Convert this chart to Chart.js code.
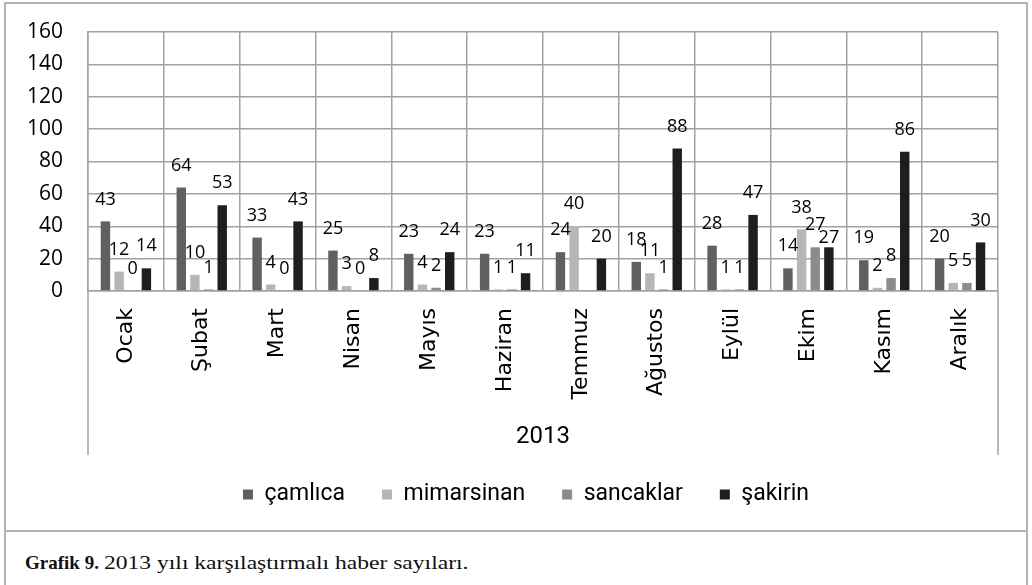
<!DOCTYPE html>
<html><head><meta charset="utf-8">
<script src="https://cdn.jsdelivr.net/npm/chart.js@4.4.1/dist/chart.umd.min.js"></script>
<style>
html,body{margin:0;padding:0;background:#fff;}
body{width:1032px;height:585px;position:relative;overflow:hidden;}
#frame{position:absolute;left:4px;top:2px;width:1020px;height:526px;border:2px solid #b4b4b4;}
#capbox{position:absolute;left:4px;top:532px;width:1020px;height:60px;border-left:2px solid #b4b4b4;border-right:2px solid #b4b4b4;}
#wrap{position:absolute;left:0;top:0;width:1032px;height:531px;}
#caption{position:absolute;left:25px;top:553px;font-family:"Liberation Serif",serif;font-size:19px;line-height:20px;color:#111;white-space:nowrap;}
#caption b{display:inline-block;}
#caption span{display:inline-block;transform:scaleX(1.24);transform-origin:0 50%;}
</style></head>
<body>
<div id="frame"></div>
<div id="capbox"></div>
<div id="wrap"><canvas id="c"></canvas></div>
<div id="caption"><b>Grafik 9.</b>&nbsp;<span>2013 yılı karşılaştırmalı haber sayıları.</span></div>
<script>
const months = ['Ocak','Şubat','Mart','Nisan','Mayıs','Haziran','Temmuz','Ağustos','Eylül','Ekim','Kasım','Aralık'];
const seriesNames = ['çamlıca','mimarsinan','sancaklar','şakirin'];
const camlica    = [43, 64, 33, 25, 23, 23, 24, 18, 28, 14, 19, 20];
const mimarsinan = [12, 10, 4, 3, 4, 1, 40, 11, 1, 38, 2, 5];
const sancaklar  = [0, 1, 0, 0, 2, 1, null, 1, 1, 27, 8, 5];
const sakirin    = [14, 53, 43, 8, 24, 11, 20, 88, 47, 27, 86, 30];
const yTicks = [0, 20, 40, 60, 80, 100, 120, 140, 160];
const axisTitle = '2013';

const colors = ['#606060', '#b6b6b6', '#8c8c8c', '#1e1e1e'];
const gridColor = '#a2a2a2';
const condensed = 'Roboto, "Open Sans", sans-serif';

const extras = {
  id: 'extras',
  afterLayout(chart) {
    // the reference centres its legend a little right of the canvas centre
    chart.legend.left += 27;
    chart.legend.right += 27;
  },
  afterDatasetsDraw(chart) {
    const ctx = chart.ctx;
    ctx.save();
    ctx.font = '18px "Open Sans"';
    ctx.fillStyle = '#000';
    ctx.textAlign = 'center';
    ctx.textBaseline = 'middle';
    const n = chart.data.labels.length;
    for (let i = 0; i < n; i++) {
      const placed = [];
      chart.data.datasets.forEach((ds, di) => {
        const v = ds.data[i];
        if (v === null || v === undefined) return;
        const bar = chart.getDatasetMeta(di).data[i];
        const txt = String(v);
        const w = ctx.measureText(txt).width;
        let y = bar.y - 22;
        const clash = placed.some(p => Math.abs(p.y - y) < 6 && Math.abs(p.x - bar.x) < (p.w + w) / 2);
        if (clash) y = bar.y - 9;
        ctx.fillText(txt, bar.x, y);
        placed.push({ x: bar.x, y, w });
      });
    }
    ctx.restore();
  },
  afterDraw(chart) {
    const {ctx, chartArea} = chart;
    ctx.save();
    ctx.strokeStyle = gridColor;
    ctx.lineWidth = 1.5;
    [chartArea.left, chartArea.right].forEach(px => {
      ctx.beginPath();
      ctx.moveTo(px, chartArea.bottom);
      ctx.lineTo(px, chartArea.bottom + 164);
      ctx.stroke();
    });
    ctx.restore();
  }
};

const chart = new Chart(document.getElementById('c'), {
  type: 'bar',
  data: {
    labels: months,
    datasets: [camlica, mimarsinan, sancaklar, sakirin].map((d, i) => ({
      label: seriesNames[i],
      data: d,
      backgroundColor: colors[i],
      borderWidth: 0,
      barPercentage: 0.69,
      categoryPercentage: 0.72
    }))
  },
  options: {
    responsive: true,
    maintainAspectRatio: false,
    animation: false,
    layout: { padding: { top: 32, left: 0, right: 34, bottom: 15 } },
    plugins: {
      tooltip: { enabled: false },
      legend: {
        position: 'bottom',
        labels: {
          font: { family: condensed, size: 23 },
          color: '#000',
          boxWidth: 10,
          boxHeight: 10,
          padding: 37
        }
      }
    },
    scales: {
      x: {
        grid: { color: gridColor, lineWidth: 1.5, offset: true, drawTicks: false },
        border: { color: gridColor, width: 1.5 },
        ticks: {
          autoSkip: false, minRotation: 90, maxRotation: 90, padding: 17,
          font: { family: '"DejaVu Sans"', size: 22 }, color: '#000'
        },
        title: {
          display: true, text: axisTitle, color: '#000',
          font: { family: condensed, size: 24, lineHeight: '12px' },
          padding: { top: 0, bottom: 3 }
        },
        afterFit(s) { s.height = 155; }
      },
      y: {
        min: 0, max: 160,
        afterBuildTicks(s) { s.ticks = yTicks.map(v => ({ value: v })); },
        grid: { color: gridColor, lineWidth: 1.5, drawTicks: false },
        border: { color: gridColor, width: 1.5 },
        ticks: { padding: 25, font: { family: '"Open Sans"', size: 21 }, color: '#000' },
        afterFit(s) { s.width = 88; s.paddingTop = 13; s.paddingBottom = 13; }
      }
    }
  },
  plugins: [extras]
});
</script>
</body></html>
